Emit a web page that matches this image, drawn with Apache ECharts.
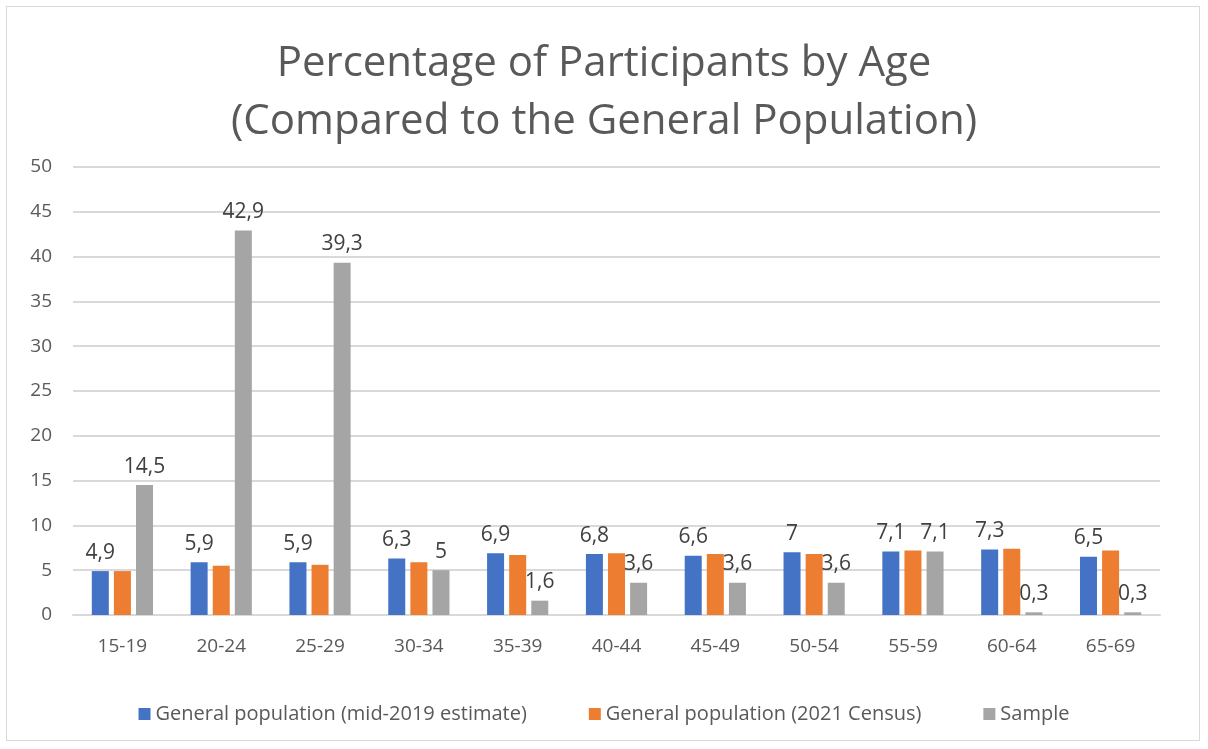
<!DOCTYPE html>
<html>
<head>
<meta charset="utf-8">
<script src="https://cdn.jsdelivr.net/npm/echarts@6/dist/echarts.min.js"></script>
<style>
  html, body { margin: 0; padding: 0; background: #fff; }
  #frame { position: absolute; left: 6px; top: 6px; width: 1194px; height: 735px; border: 1px solid #d9d9d9; box-sizing: border-box; }
  #chart { position: absolute; left: 0; top: 0; width: 1208px; height: 749px; }
</style>
</head>
<body>
<div id="frame"></div>
<div id="chart"></div>
<script>
// values
const ageGroups = ['15-19', '20-24', '25-29', '30-34', '35-39', '40-44', '45-49', '50-54', '55-59', '60-64', '65-69'];
const pop2019 = [4.9, 5.9, 5.9, 6.3, 6.9, 6.8, 6.6, 7, 7.1, 7.3, 6.5];
const census2021 = [4.9, 5.5, 5.6, 5.9, 6.7, 6.9, 6.8, 6.8, 7.2, 7.4, 7.2];
const sample = [14.5, 42.9, 39.3, 5, 1.6, 3.6, 3.6, 3.6, 7.1, 0.3, 0.3];
const seriesNames = ['General population (mid-2019 estimate)', 'General population (2021 Census)', 'Sample'];

const font = "'Open Sans', 'Liberation Sans', sans-serif";
const commaFmt = p => String(p.value).replace('.', ',');
const labelStyle = { show: true, position: 'top', distance: 8, color: '#404040', fontSize: 21, fontFamily: font, formatter: commaFmt };

const chart = echarts.init(document.getElementById('chart'));
chart.setOption({
  color: ['#4472c4', '#ed7d31', '#a5a5a5'],
  textStyle: { fontFamily: font },
  title: {
    text: 'Percentage of Participants by Age\n(Compared to the General Population)',
    left: 'center', top: 30,
    textStyle: { color: '#595959', fontSize: 42, fontWeight: 'normal', lineHeight: 58, fontFamily: font }
  },
  legend: {
    bottom: 20, left: 'center',
    itemWidth: 12, itemHeight: 12, itemGap: 62,
    icon: 'rect',
    textStyle: { color: '#595959', fontSize: 20, fontFamily: font },
    data: seriesNames
  },
  grid: { left: 73, right: 48, top: 167, bottom: 134 },
  xAxis: {
    type: 'category',
    data: ageGroups,
    axisLine: { lineStyle: { color: '#d9d9d9', width: 2 } },
    axisTick: { show: false },
    axisLabel: { color: '#595959', fontSize: 19, margin: 22, fontFamily: font }
  },
  yAxis: {
    type: 'value', min: 0, max: 50, interval: 5,
    axisLine: { show: false },
    axisTick: { show: false },
    axisLabel: { color: '#595959', fontSize: 19, margin: 21, fontFamily: font },
    splitLine: { lineStyle: { color: '#d9d9d9', width: 2 } }
  },
  series: [
    { name: seriesNames[0], type: 'bar', data: pop2019, barWidth: 17, barGap: '30%', label: labelStyle },
    { name: seriesNames[1], type: 'bar', data: census2021, barWidth: 17, barGap: '30%' },
    { name: seriesNames[2], type: 'bar', data: sample, barWidth: 17, barGap: '30%', label: labelStyle }
  ]
});
</script>
</body>
</html>
